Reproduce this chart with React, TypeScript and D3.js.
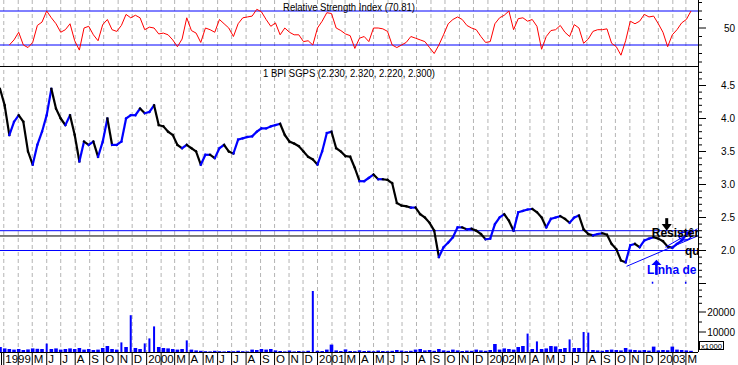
import React, { useEffect } from "react";
import * as d3 from "d3";

// chart size and the plot's right edge (axis line)
const width = 738;
const height = 365;
const plotRight = 698;

// time span shown on the x axis, one sample every 10 days
const startDate = new Date(1999, 1, 22);
const endDate = new Date(2003, 2, 28);
const stepDays = 10;

// BPI SGPS closing prices (EUR)
const closes = [
  4.45, 4.2, 3.75, 3.95, 4.05, 3.95, 3.5, 3.3, 3.6, 3.8,
  4.05, 4.45, 4.15, 4.0, 3.9, 4.05, 3.75, 3.35, 3.65, 3.6,
  3.65, 3.42, 3.65, 4.0, 3.6, 3.6, 3.65, 4.0, 4.05, 4.05,
  4.15, 4.08, 4.1, 4.2, 3.9, 3.88, 3.8, 3.75, 3.6, 3.55,
  3.6, 3.55, 3.5, 3.3, 3.45, 3.45, 3.4, 3.55, 3.6, 3.5,
  3.47, 3.68, 3.7, 3.72, 3.73, 3.8, 3.85, 3.85, 3.88, 3.9,
  3.92, 3.75, 3.65, 3.62, 3.58, 3.5, 3.42, 3.38, 3.3, 3.5,
  3.78, 3.8, 3.55, 3.5, 3.43, 3.42, 3.25, 3.05, 3.05, 3.1,
  3.15, 3.08, 3.08, 3.07, 3.02, 2.72, 2.68, 2.67, 2.65, 2.65,
  2.55, 2.5, 2.42, 2.3, 1.9, 2.05, 2.12, 2.2, 2.35, 2.35,
  2.32, 2.33, 2.3, 2.25, 2.17, 2.18, 2.4, 2.5, 2.55, 2.45,
  2.3, 2.58, 2.6, 2.62, 2.63, 2.58, 2.5, 2.35, 2.48, 2.5,
  2.52, 2.48, 2.42, 2.5, 2.53, 2.32, 2.25, 2.23, 2.25, 2.26,
  2.24, 2.1, 2.02, 1.85, 1.82, 2.08, 2.1, 2.05, 2.15, 2.18,
  2.2, 2.18, 2.14, 2.06, 2.04, 2.1, 2.15, 2.24, 2.3,
];

// Relative Strength Index, same dates (first two not yet computed)
const rsiValues = [
  null, null, 30, 36, 45, 30, 27, 33, 53, 57,
  70, 62, 55, 45, 48, 55, 35, 24, 50, 52,
  42, 35, 54, 60, 48, 46, 53, 66, 62, 65,
  62, 48, 51, 50, 43, 44, 42, 36, 28, 37,
  62, 47, 44, 33, 50, 48, 45, 60, 55, 50,
  40, 55, 62, 63, 64, 72, 69, 60, 52, 56,
  42, 50, 45, 42, 42, 34, 35, 30, 50, 58,
  68, 67, 50, 47, 43, 41, 26, 38, 40, 34,
  50, 50, 49, 46, 30, 27, 30, 33, 40, 38,
  36, 34, 27, 20, 30, 42, 55, 60, 63, 60,
  53, 50, 48, 40, 33, 34, 55, 62, 65, 70,
  48, 61, 62, 58, 60, 52, 25, 40, 47, 48,
  53, 45, 40, 54, 50, 32, 37, 46, 48, 48,
  49, 32, 28, 18, 35, 58, 55, 58, 66, 63,
  64, 55, 45, 28, 42, 48, 56, 60, 70,
];

// traded volume, same dates
const volumes = [
  2500, 1800, 1500, 1200, 1500, 1000, 1300, 1800, 1600, 1500,
  4200, 1500, 1800, 1200, 1500, 1800, 1500, 2000, 1200, 1500,
  1000, 1200, 2000, 3000, 1500, 1200, 4800, 2500, 18400, 2000,
  1500, 4300, 6800, 12800, 2500, 2000, 1800, 1500, 1200, 1500,
  5800, 1200, 800, 600, 400, 300, 600, 400, 300, 500,
  400, 600, 400, 300, 1200, 1000, 1500, 1200, 1500, 800,
  500, 300, 700, 300, 500, 300, 600, 30500, 600, 500,
  1200, 3700, 800, 500, 1300, 500, 400, 800, 500, 600,
  400, 700, 500, 400, 600, 1000, 700, 400, 600, 1200,
  1500, 800, 1000, 600, 1500, 800, 600, 1200, 800, 500,
  700, 600, 1200, 800, 600, 1000, 4000, 1200, 1800, 1500,
  1200, 2500, 3000, 9200, 1500, 5300, 1500, 1800, 3000, 2800,
  1500, 2000, 6300, 2000, 2000, 10000, 9700, 1000, 800, 600,
  1000, 1200, 1000, 800, 2000, 1200, 1000, 800, 1000, 700,
  2700, 800, 1000, 900, 2700, 1200, 1000, 800, 600,
];

// horizontal support / resistance levels
const levels = [
  { value: 2.3, color: "#0000ff" },
  { value: 2.22, color: "#000000" },
  { value: 2.0, color: "#0000ff" },
];

const rsiBands = [70, 30];
const priceLabels = [2.0, 2.5, 3.0, 3.5, 4.0, 4.5];
const volumeTicks = [5000, 10000, 15000, 20000];
const volumeLabels = [10000, 20000];

const blue = "#0000ff";
const font = "'Liberation Sans', Arial, sans-serif";

export default function App() {
  useEffect(() => {
    document.body.style.margin = "0";
  }, []);

  const dates = closes.map((_, i) => d3.timeDay.offset(startDate, i * stepDays));

  const x = d3.scaleTime().domain([startDate, endDate]).range([0, plotRight]);
  const yRsi = d3.scaleLinear().domain([30, 70]).range([45, 11]);
  const yPrice = d3.scaleLinear().domain([2, 4.5]).range([250.5, 85.5]);
  const yVol = d3.scaleLinear().domain([0, 10000]).range([352, 332]);

  const months = d3.timeMonth.range(d3.timeMonth.ceil(startDate), endDate);

  // month labels, skipping those that would overlap the previous one
  const monthLabels: { x: number; text: string }[] = [];
  let lastEnd = -Infinity;
  months.forEach((m, i) => {
    const mx = x(m);
    const isYear = m.getMonth() === 0 || i === 0;
    const text = isYear ? d3.timeFormat("%Y")(m) : d3.timeFormat("%b")(m)[0];
    const w = isYear ? 24 : 9;
    if (mx + 2 >= lastEnd) {
      monthLabels.push({ x: mx + 2, text });
      lastEnd = mx + 2 + w;
    }
  });

  const rsiLine = d3
    .line<number | null>()
    .defined((d) => d !== null)
    .x((_, i) => x(dates[i]))
    .y((d) => yRsi(d as number));

  const priceTicks = d3.range(12, 48).map((v) => v / 10);
  const rsiTicks = d3.range(10, 81, 10);

  const D = (s: string) => d3.timeParse("%Y-%m-%d")(s) as Date;

  return (
    <svg
      width={width}
      height={height}
      style={{ position: "absolute", left: 0, top: 0, background: "#fff" }}
      fontFamily={font}
    >
      <defs>
        <clipPath id="plot-clip">
          <rect x={0} y={0} width={plotRight} height={352} />
        </clipPath>
      </defs>
      <rect width={width} height={height} fill="#fff" />

      {/* vertical dashed month grid */}
      {months.map((m, i) => (
        <line
          key={"g" + i}
          x1={x(m) + 0.5}
          x2={x(m) + 0.5}
          y1={0}
          y2={352}
          stroke="#b4b4b4"
          strokeDasharray="4,3"
        />
      ))}

      {/* RSI panel */}
      {rsiBands.map((v) => (
        <line key={"b" + v} x1={0} x2={plotRight} y1={yRsi(v)} y2={yRsi(v)} stroke={blue} strokeWidth={1} />
      ))}
      <path d={rsiLine(rsiValues) || ""} fill="none" stroke="#ff0000" strokeWidth={1} />
      <text x={283} y={11} fontSize={10} textLength={132} lengthAdjust="spacingAndGlyphs">
        Relative Strength Index (70.81)
      </text>

      {/* separator between panels */}
      <line x1={0} x2={plotRight} y1={66.5} y2={66.5} stroke="#000" />

      {/* price panel */}
      <text x={263} y={77} fontSize={10} textLength={172} lengthAdjust="spacingAndGlyphs">
        1 BPI SGPS (2.230, 2.320, 2.220, 2.300)
      </text>

      {/* volume bars */}
      {volumes.map((v, i) => {
        const w = v > 4000 ? 2 : 3.6;
        return (
          <rect
            key={"v" + i}
            x={x(dates[i]) - w / 2}
            y={yVol(v)}
            width={w}
            height={352 - yVol(v)}
            fill={blue}
          />
        );
      })}

      {levels.map((l) => (
        <line
          key={"l" + l.value}
          x1={0}
          x2={plotRight}
          y1={yPrice(l.value)}
          y2={yPrice(l.value)}
          stroke={l.color}
        />
      ))}

      {/* price path, blue on up moves, black on down moves */}
      {closes.slice(1).map((c, i) => (
        <line
          key={"p" + i}
          x1={x(dates[i])}
          y1={yPrice(closes[i])}
          x2={x(dates[i + 1])}
          y2={yPrice(c)}
          stroke={c >= closes[i] ? blue : "#000"}
          strokeWidth={2.2}
          strokeLinecap="square"
        />
      ))}

      {/* annotations */}
      <g clipPath="url(#plot-clip)">
        <line
          x1={x(D("2002-10-26"))}
          y1={yPrice(1.76)}
          x2={x(D("2003-03-27"))}
          y2={yPrice(2.22)}
          stroke={blue}
        />
        <line
          x1={x(D("2003-01-17"))}
          y1={yPrice(2.05)}
          x2={x(D("2003-03-27"))}
          y2={yPrice(2.33)}
          stroke={blue}
        />
        <ellipse cx={x(D("2003-02-28"))} cy={yPrice(2.22)} rx={6} ry={4} fill="none" stroke={blue} strokeWidth={1.5} />
        <text x={x(D("2002-12-19"))} y={yPrice(2.21)} fontSize={12} fontWeight="bold" fill="#000">
          Resistência
        </text>
        <text x={x(D("2003-02-28"))} y={yPrice(1.93)} fontSize={12} fontWeight="bold" fill="#000">
          qu
        </text>
        <text x={x(D("2002-12-09"))} y={yPrice(1.64)} fontSize={12} fontWeight="bold" fill={blue}>
          Linha de
        </text>
        {/* black arrow down */}
        <line
          x1={x(D("2003-01-20"))}
          x2={x(D("2003-01-20"))}
          y1={yPrice(2.49)}
          y2={yPrice(2.38)}
          stroke="#000"
          strokeWidth={3}
        />
        <path
          d={`M${x(D("2003-01-20")) - 5},${yPrice(2.4)} L${x(D("2003-01-20")) + 5},${yPrice(2.4)} L${x(
            D("2003-01-20")
          )},${yPrice(2.3)} Z`}
          fill="#000"
        />
        {/* blue arrow up */}
        <line
          x1={x(D("2002-12-29"))}
          x2={x(D("2002-12-29"))}
          y1={yPrice(1.63)}
          y2={yPrice(1.8)}
          stroke={blue}
          strokeWidth={2.5}
        />
        <path
          d={`M${x(D("2002-12-29")) - 5},${yPrice(1.78)} L${x(D("2002-12-29")) + 5},${yPrice(1.78)} L${x(
            D("2002-12-29")
          )},${yPrice(1.86)} Z`}
          fill={blue}
        />
        <rect x={x(D("2002-12-19"))} y={yPrice(1.527)} width={1.5} height={2} fill={blue} />
        <rect x={x(D("2003-02-28"))} y={yPrice(1.527)} width={1.5} height={2} fill={blue} />
      </g>

      {/* right axis */}
      <line x1={plotRight + 0.5} x2={plotRight + 0.5} y1={0} y2={352} stroke="#000" />
      {rsiTicks.map((v) => (
        <line
          key={"rt" + v}
          x1={plotRight}
          x2={plotRight + (v === 50 ? 8 : 4)}
          y1={yRsi(v)}
          y2={yRsi(v)}
          stroke="#000"
        />
      ))}
      <text x={735} y={yRsi(50) + 3.5} fontSize={10} textAnchor="end">
        50
      </text>
      {priceTicks.map((v) => {
        const major = Math.round(v * 10) % 5 === 0;
        return (
          <line
            key={"pt" + v}
            x1={plotRight}
            x2={plotRight + (major ? 8 : 4)}
            y1={yPrice(v)}
            y2={yPrice(v)}
            stroke="#000"
          />
        );
      })}
      {priceLabels.map((v) => (
        <text key={"pl" + v} x={735} y={yPrice(v) + 3.5} fontSize={10} textAnchor="end">
          {v.toFixed(1)}
        </text>
      ))}
      {volumeTicks.map((v) => (
        <line
          key={"vt" + v}
          x1={plotRight}
          x2={plotRight + (v % 10000 === 0 ? 8 : 4)}
          y1={yVol(v)}
          y2={yVol(v)}
          stroke="#000"
        />
      ))}
      {volumeLabels.map((v) => (
        <text key={"vl" + v} x={735} y={yVol(v) + 3.5} fontSize={10} textAnchor="end">
          {v}
        </text>
      ))}
      <rect x={699.5} y={341.5} width={24} height={8} fill="#fff" stroke="#000" />
      <text x={701} y={348.5} fontSize={8} textLength={21} lengthAdjust="spacingAndGlyphs">
        x1000
      </text>

      {/* bottom axis */}
      <line x1={0} x2={plotRight} y1={352.5} y2={352.5} stroke="#000" />
      <line x1={1.5} x2={1.5} y1={352} y2={365} stroke="#000" />
      {months.map((m, i) => (
        <line key={"t" + i} x1={x(m) + 0.5} x2={x(m) + 0.5} y1={352} y2={365} stroke="#000" />
      ))}
      {monthLabels.map((l, i) => (
        <text key={"ml" + i} x={l.x} y={362.5} fontSize={11.5}>
          {l.text}
        </text>
      ))}
    </svg>
  );
}
